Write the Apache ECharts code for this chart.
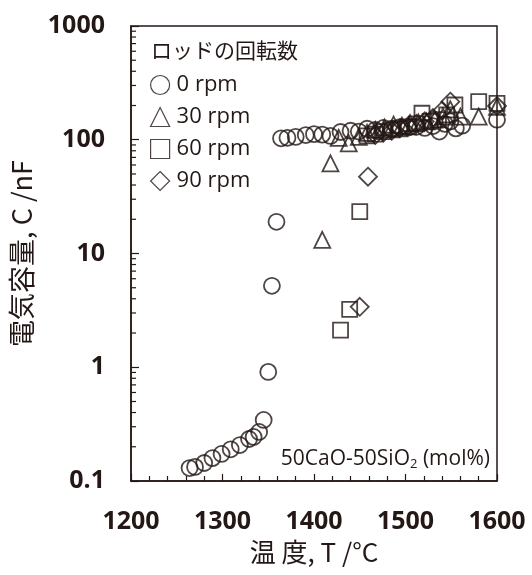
<!DOCTYPE html>
<html>
<head>
<meta charset="utf-8">
<script src="https://cdn.jsdelivr.net/npm/echarts@6/dist/echarts.min.js"></script>
<style>html,body{margin:0;padding:0;background:#fff;}#c{width:532px;height:575px;}</style>
</head>
<body>
<div id="c"></div>
<script>
// ---- data ----
var xTicks = [1200, 1300, 1400, 1500, 1600];
var yTickLabels = ['0.1', '1', '10', '100', '1000'];
var seriesNames = ['0 rpm', '30 rpm', '60 rpm', '90 rpm'];
var legendTitle = 'ロッドの回転数';
var noteText = '50CaO-50SiO{s|2} (mol%)';

var rpm0 = [[1264,0.13],[1270,0.133],[1280,0.144],[1289,0.159],[1299,0.173],[1309,0.19],[1319,0.207],[1329,0.234],[1334,0.244],[1340,0.27],[1345,0.344],[1350,0.91],[1354,5.2],[1359,19],[1364,103],[1371,104],[1380,106],[1391,110],[1400,112],[1409,111],[1418,108],[1429,117],[1440,120],[1449,118],[1458,125],[1467,122],[1476,127],[1485,125],[1494,129],[1503,128],[1512,130],[1521,127],[1530,132],[1537,118],[1543,138],[1549,145],[1555,126],[1562,133],[1600,150]];
var rpm30 = [[1409,13.2],[1418,62],[1427,104],[1438,93],[1449,106],[1458,115],[1467,122],[1477,128],[1487,136],[1496,133],[1505,140],[1514,142],[1523,145],[1532,150],[1541,160],[1549,185],[1560,160],[1580,160],[1600,195]];
var rpm60 = [[1429,2.12],[1439,3.23],[1450,23.3],[1458,108],[1467,112],[1476,118],[1485,122],[1494,125],[1503,130],[1512,138],[1518,171],[1527,145],[1536,150],[1545,165],[1554,202],[1580,216],[1600,209]];
var rpm90 = [[1450,3.4],[1459,47.3],[1467,110],[1476,116],[1485,120],[1494,126],[1503,132],[1512,138],[1521,145],[1530,155],[1540,180],[1549,216],[1600,198]];
var minorMultipliers = [2, 3, 4, 5, 6, 7, 8, 9];
var decades = [0.1, 1, 10, 100];

// ---- chart ----
var INK = '#231815';
var chart = echarts.init(document.getElementById('c'), null, {renderer: 'canvas'});
var minorVals = [];
decades.forEach(function (d) { minorMultipliers.forEach(function (m) { minorVals.push([1200, d * m]); }); });

function sc(name, data, symbol, size) {
  return {
    name: name, type: 'scatter', data: data, symbol: symbol, symbolSize: size,
    itemStyle: {color: 'rgba(0,0,0,0)', borderColor: INK, borderWidth: 1.8},
    emphasis: {disabled: true}, z: 3
  };
}
var hollow = {color: 'rgba(0,0,0,0)', borderColor: INK, borderWidth: 1.2};

chart.setOption({
  animation: false,
  grid: {left: 130, right: 35, top: 26, bottom: 94, show: true, borderColor: INK, borderWidth: 1.5, backgroundColor: 'rgba(0,0,0,0)'},
  title: {text: legendTitle, left: 146, top: 35, textStyle: {fontFamily: 'Noto Sans CJK JP', fontSize: 21, fontWeight: 'normal', color: INK}},
  legend: {
    orient: 'vertical', left: 145, top: 69, itemGap: 10, itemWidth: 19, itemHeight: 19,
    textStyle: {fontFamily: 'Open Sans', fontSize: 22, color: INK, lineHeight: 19, padding: [0, 0, 0, 2]},
    data: [
      {name: seriesNames[0], icon: 'circle', itemStyle: hollow},
      {name: seriesNames[1], icon: 'triangle', itemStyle: hollow},
      {name: seriesNames[2], icon: 'rect', itemStyle: hollow},
      {name: seriesNames[3], icon: 'diamond', itemStyle: hollow}
    ],
    selectedMode: false
  },
  xAxis: {
    type: 'value', min: 1200, max: 1600, interval: 100,
    name: '温 度, T /°C', nameLocation: 'middle', nameGap: 55,
    nameTextStyle: {fontFamily: 'Noto Sans CJK JP', fontSize: 26, color: INK},
    axisLine: {show: true, onZero: false, lineStyle: {color: INK, width: 1.5}},
    axisTick: {show: true, inside: true, length: 7, lineStyle: {color: INK, width: 1.2}},
    minorTick: {show: true, splitNumber: 5, length: 5, lineStyle: {color: INK, width: 1.2}},
    axisLabel: {margin: 28, fontFamily: 'Open Sans', fontWeight: 'bold', fontSize: 25, color: INK,
      formatter: function (v) { return xTicks.indexOf(v) >= 0 ? String(v) : ''; }},
    splitLine: {show: false}
  },
  yAxis: {
    type: 'log', logBase: 10, min: 0.1, max: 1000,
    name: '電気容量, C /nF', nameLocation: 'middle', nameGap: 96, nameRotate: 90,
    nameTextStyle: {fontFamily: 'Noto Sans CJK JP', fontSize: 27, color: INK},
    axisLine: {show: true, onZero: false, lineStyle: {color: INK, width: 1.5}},
    axisTick: {show: true, inside: true, length: 8, lineStyle: {color: INK, width: 1.2}},
    axisLabel: {margin: 26, fontFamily: 'Open Sans', fontWeight: 'bold', fontSize: 25, color: INK,
      formatter: function (v) { var i = Math.round(Math.log10(v)) + 1; return yTickLabels[i] || ''; }},
    splitLine: {show: false}
  },
  graphic: [{
    type: 'text', right: 42, top: 449, z: 10,
    style: {text: noteText, fontFamily: 'Open Sans', fontSize: 21, fill: INK,
      rich: {s: {fontFamily: 'Open Sans', fontSize: 13, fill: INK, padding: [9, 0, 0, 0]}}}
  }],
  series: [
    sc(seriesNames[0], rpm0, 'circle', 16),
    sc(seriesNames[1], rpm30, 'triangle', 16),
    sc(seriesNames[2], rpm60, 'rect', 15),
    sc(seriesNames[3], rpm90, 'diamond', 18),
    {
      type: 'custom', data: minorVals, silent: true, clip: false, z: 4,
      renderItem: function (params, api) {
        var p = api.coord([api.value(0), api.value(1)]);
        return {type: 'line', shape: {x1: p[0], y1: p[1], x2: p[0] + 5, y2: p[1]}, style: {stroke: INK, lineWidth: 1.2}};
      }
    }
  ]
});
</script>
</body>
</html>
